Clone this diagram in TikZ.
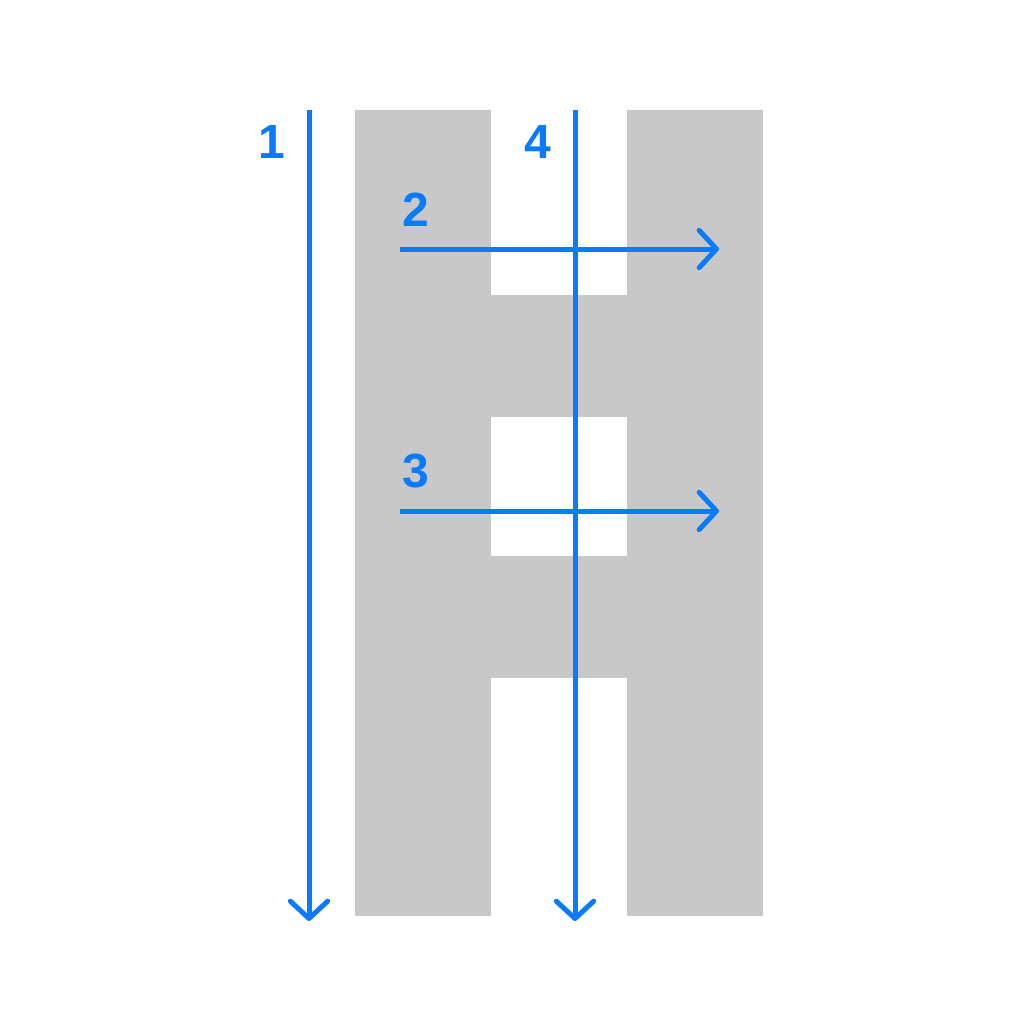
\documentclass[tikz,border=0pt]{standalone}
\usepackage{fontspec}
\setmainfont{Liberation Sans}
\usetikzlibrary{arrows.meta}
\definecolor{arrowblue}{HTML}{0A7AFF}
\definecolor{shapegray}{HTML}{C8C8C8}
\begin{document}
\begin{tikzpicture}[x=0.75pt,y=-0.75pt,
  flow/.style={draw=arrowblue, line width=3.75pt,
    -{Straight Barb[length=13pt, width=28pt, round]}},
  numlabel/.style={text=arrowblue, font=\fontsize{36}{36}\selectfont\bfseries, inner sep=0pt}]
\useasboundingbox (0,0) rectangle (1024,1027);
% H-like gray shape
\fill[shapegray] (355,110) rectangle (763,916);
\fill[white] (491,110) rectangle (627,295);
\fill[white] (491,417) rectangle (627,556);
\fill[white] (491,678) rectangle (627,916);
% coordinates
\coordinate (a1s) at (309,110);
\coordinate (a1e) at (309,921);
\coordinate (a4s) at (575,110);
\coordinate (a4e) at (575,921);
\coordinate (a2s) at (400,249);
\coordinate (a2e) at (719,249);
\coordinate (a3s) at (400,511);
\coordinate (a3e) at (719,511);
% arrows
\draw[flow] (a1s) -- (a1e);
\draw[flow] (a4s) -- (a4e);
\draw[flow] (a2s) -- (a2e);
\draw[flow] (a3s) -- (a3e);
% labels
\node[numlabel] (l1) at (272,142) {1};
\node[numlabel] (l4) at (538,142) {4};
\node[numlabel] (l2) at (416,210) {2};
\node[numlabel] (l3) at (416,471) {3};
\end{tikzpicture}
\end{document}
